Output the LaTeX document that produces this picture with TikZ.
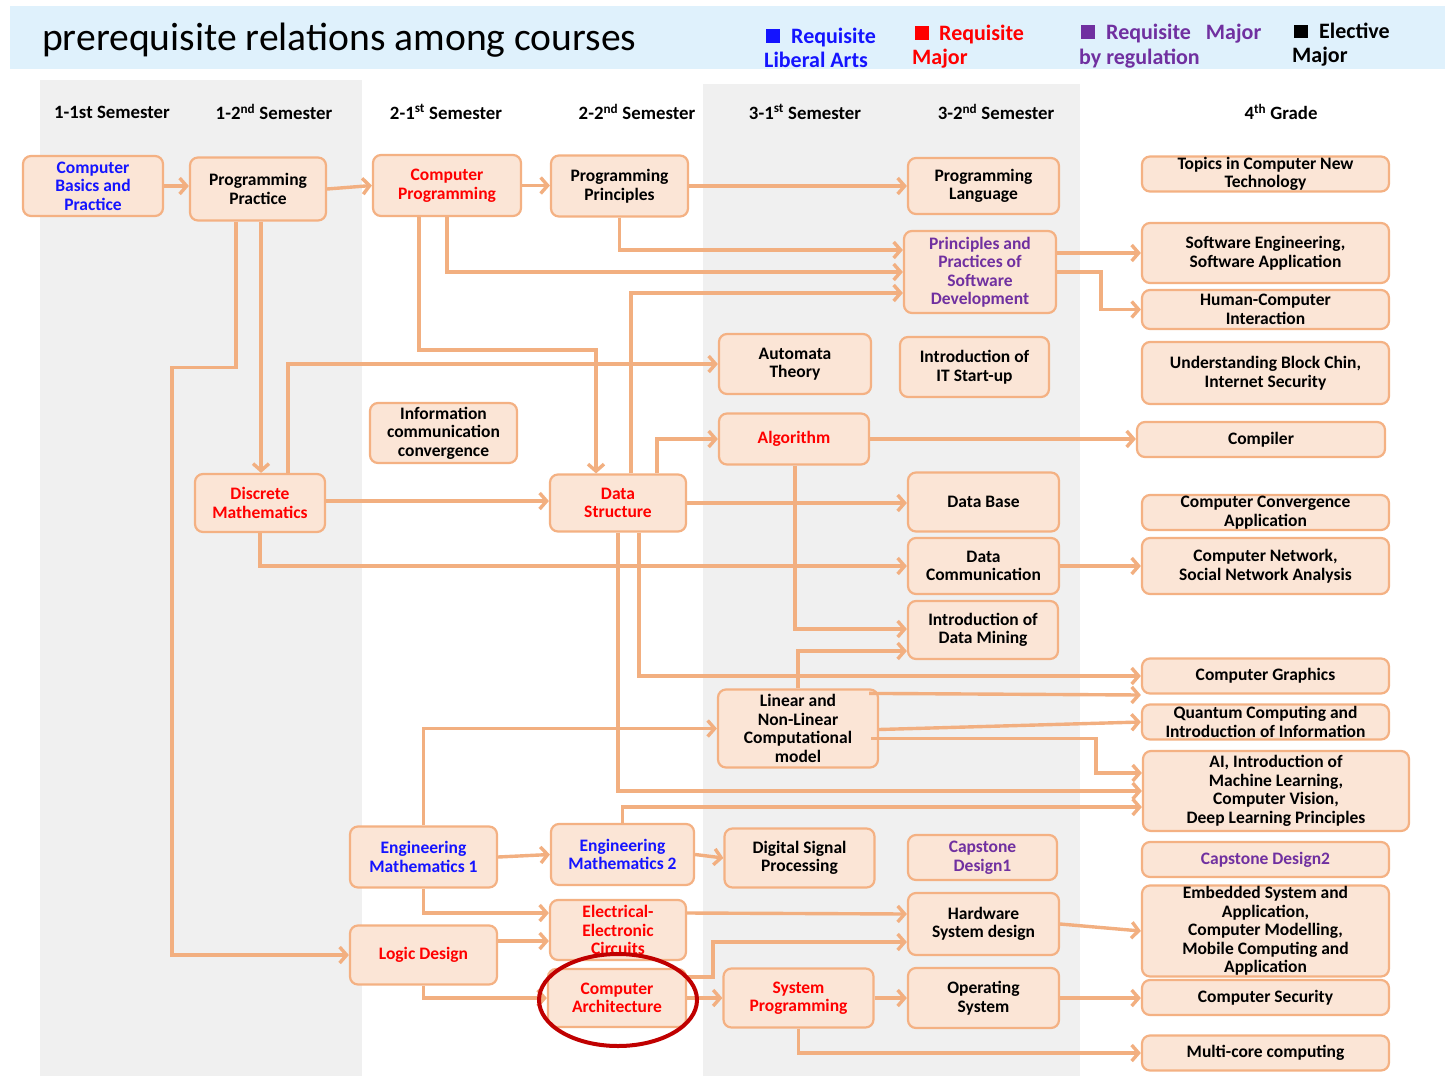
\documentclass[tikz,border=0pt]{standalone}
\usepackage{fontspec}
\setmainfont{Carlito}
\usetikzlibrary{arrows.meta,calc}
\definecolor{hdrblue}{HTML}{DFF1FC}
\definecolor{bandgray}{HTML}{F0F0F0}
\definecolor{boxfill}{HTML}{FBE5D6}
\definecolor{boxline}{HTML}{F4B183}
\definecolor{connc}{HTML}{F2AF80}
\definecolor{reqblue}{HTML}{1414FF}
\definecolor{reqred}{HTML}{FF0000}
\definecolor{reqpurple}{HTML}{7030A0}
\definecolor{ringred}{HTML}{C00000}
\newcommand\crsbox[7]{\node[crs, minimum width=#4pt, minimum height=#5pt, text=#6] (#1) at (#2,#3) {#7};}
\begin{document}
\begin{tikzpicture}[x=1pt,y=-1pt,
  crs/.style={draw=boxline, fill=boxfill, line width=2.2pt, rounded corners=8pt, align=center, inner sep=0pt,
    font=\bfseries\fontsize{17.5}{18.5}\selectfont},
  conn/.style={draw=connc, line width=3.4pt, -{Straight Barb[length=7pt,width=16pt]}},
  sem/.style={font=\bfseries\fontsize{18.8}{20}\selectfont, anchor=center},
  leg/.style={font=\bfseries\fontsize{22}{25}\selectfont, anchor=base west, inner sep=0pt}
]
\useasboundingbox (0,0) rectangle (1445,1076);
% backgrounds
\fill[white] (0,0) rectangle (1445,1076);
\fill[hdrblue] (10,6) rectangle (1445,69);
\fill[bandgray] (40,80) rectangle (362,1076);
\fill[bandgray] (703,84) rectangle (1080,1076);
% title
\node[anchor=base west, inner sep=0pt, font=\fontsize{39.6}{44}\selectfont] (title) at (42,50) {prerequisite relations among courses};
% legend
\fill[reqblue] (766,29) rectangle (780,43);
\node[leg, text=reqblue] (lg1a) at (791,43) {Requisite};
\node[leg, text=reqblue] (lg1b) at (764,67) {Liberal Arts};
\fill[reqred] (915,26) rectangle (929,40);
\node[leg, text=reqred] (lg2a) at (939,40) {Requisite};
\node[leg, text=reqred] (lg2b) at (912,64) {Major};
\fill[reqpurple] (1081,25) rectangle (1095,39);
\node[leg, text=reqpurple] (lg3a) at (1106,39) {Requisite\hspace{15pt}Major};
\node[leg, text=reqpurple] (lg3b) at (1079,64) {by regulation};
\fill[black] (1294,25) rectangle (1308,38);
\node[leg, text=black] (lg4a) at (1319,38) {Elective};
\node[leg, text=black] (lg4b) at (1292,62) {Major};
% semester headings
\node[sem] (s11) at (112,112) {1-1st Semester};
\node[sem] (s12) at (274,112) {1-2\textsuperscript{nd} Semester};
\node[sem] (s21) at (446,112) {2-1\textsuperscript{st} Semester};
\node[sem] (s22) at (637,112) {2-2\textsuperscript{nd} Semester};
\node[sem] (s31) at (805,112) {3-1\textsuperscript{st} Semester};
\node[sem] (s32) at (996,112) {3-2\textsuperscript{nd} Semester};
\node[sem] (s4) at (1281,112) {4\textsuperscript{th} Grade};
% course boxes
\crsbox{CB}{93}{186}{140}{60}{reqblue}{Computer\\Basics and\\Practice}
\crsbox{PP}{258}{189}{136}{63}{black}{Programming\\Practice}
\crsbox{DM}{260}{503}{130}{58}{reqred}{Discrete\\Mathematics}
\crsbox{CP}{447}{185.5}{148}{61}{reqred}{Computer\\Programming}
\crsbox{ICC}{443.5}{433}{147}{60}{black}{Information\\communication\\convergence}
\crsbox{EMa}{423.5}{857}{147}{61}{reqblue}{Engineering\\Mathematics 1}
\crsbox{LD}{423.5}{955}{147}{59}{reqred}{Logic Design}
\crsbox{PPr}{619.5}{186}{137}{61}{black}{Programming\\Principles}
\crsbox{DS}{618}{503}{136}{57}{reqred}{Data\\Structure}
\crsbox{EMb}{622.5}{854.5}{143}{61}{reqblue}{Engineering\\Mathematics 2}
\crsbox{EEC}{618}{930}{136}{60}{reqred}{Electrical-\\Electronic\\Circuits}
\crsbox{CA}{617}{998}{138}{58}{reqred}{Computer\\Architecture}
\crsbox{AT}{795}{364}{152}{60}{black}{Automata\\Theory}
\crsbox{ALG}{794}{439}{150}{51}{reqred}{Algorithm}
\crsbox{LNL}{798}{728.5}{160}{78}{black}{Linear and\\Non-Linear\\Computational\\model}
\crsbox{DSP}{799.5}{858}{150}{59}{black}{Digital Signal\\Processing}
\crsbox{SP}{798.5}{998}{150}{59}{reqred}{System\\Programming}
\crsbox{PL}{983.5}{186}{151}{56}{black}{Programming\\Language}
\crsbox{PPSD}{980}{272}{152}{82}{reqpurple}{Principles and\\Practices of\\Software\\Development}
\crsbox{ITS}{974.5}{367}{149}{60}{black}{Introduction of\\IT Start-up}
\crsbox{DB}{983.5}{502}{151}{59}{black}{Data Base}
\crsbox{DC}{983.5}{566}{151}{56}{black}{Data\\Communication}
\crsbox{IDM}{983}{630}{150}{58}{black}{Introduction of\\Data Mining}
\crsbox{CDa}{982.5}{857.5}{149}{45}{reqpurple}{Capstone\\Design1}
\crsbox{HSD}{983.5}{924}{151}{62}{black}{Hardware\\System design}
\crsbox{OS}{983.5}{998}{151}{60}{black}{Operating\\System}
\crsbox{TCNT}{1265.5}{174}{247}{35}{black}{Topics in Computer New\\Technology}
\crsbox{SE}{1265.5}{253}{247}{60}{black}{Software Engineering,\\Software Application}
\crsbox{HCI}{1265.5}{309.5}{247}{39}{black}{Human-Computer\\Interaction}
\crsbox{UBC}{1265.5}{373}{247}{62}{black}{Understanding Block Chin,\\Internet Security}
\crsbox{COMP}{1261}{439.5}{248}{35}{black}{Compiler}
\crsbox{CCA}{1265.5}{512.5}{247}{35}{black}{Computer Convergence\\Application}
\crsbox{CN}{1265.5}{566}{247}{56}{black}{Computer Network,\\Social Network Analysis}
\crsbox{CG}{1265.5}{676}{247}{35}{black}{Computer Graphics}
\crsbox{QC}{1265.5}{722}{247}{35}{black}{Quantum Computing and\\Introduction of Information}
\crsbox{AI}{1276}{791}{266}{80}{black}{AI, Introduction of\\Machine Learning,\\Computer Vision,\\Deep Learning Principles}
\crsbox{CDb}{1265.5}{859.5}{247}{35}{reqpurple}{Capstone Design2}
\crsbox{ES}{1265.5}{931}{247}{91}{black}{Embedded System and\\Application,\\Computer Modelling,\\Mobile Computing and\\Application}
\crsbox{CS}{1265.5}{997.5}{247}{35}{black}{Computer Security}
\crsbox{MC}{1265.5}{1053}{247}{35}{black}{Multi-core computing}
% connectors
\draw[conn] (CB.east) -- (CB.east -| PP.west);
\draw[conn] (PP.east) -- (CP.west);
\draw[conn] (CP.east) -- (CP.east -| PPr.west);
\draw[conn] (PPr.east) -- (PPr.east -| PL.west);
\draw[conn] (PPr.south) |- ([yshift=22pt]PPSD.west);
\draw[conn] (CP.south) |- (PPSD.west);
\draw[conn] ([xshift=13pt]DS.north) |- ([yshift=-21pt]PPSD.west);
\draw[conn] ([xshift=-28pt]CP.south) -- ++(0,133) -| ([xshift=-22pt]DS.north);
\draw[conn] ([xshift=3pt]PP.south) -- ([xshift=1pt]DM.north);
\draw[conn] ([xshift=-22pt]PP.south) -- ++(0,146) -- ++(-64,0) |- (LD.west);
\draw[conn] ([xshift=28pt]DM.north) |- (AT.west);
\draw[conn] ([xshift=39pt]DS.north) |- (ALG.west);
\draw[conn] ([yshift=2pt]DM.east) -- ([yshift=2pt]DM.east -| DS.west);
\draw[conn] (DM.south) |- (DC.west);
\draw[conn] (DS.east) -- (DS.east -| DB.west);
\draw[conn] (ALG.east) -- (ALG.east -| COMP.west);
\draw[conn] ([xshift=1pt]ALG.south) |- ([yshift=1pt]IDM.west);
\draw[conn] (LNL.north) |- ([yshift=-21pt]IDM.west);
\draw[conn] ([xshift=21pt]DS.south) |- (CG.west);
\draw[conn] ([xshift=-10pt,yshift=-5pt]LNL.north east) -- ([yshift=-19pt]CG.west);
\draw[conn] ([yshift=-1pt]LNL.east) -- (QC.west);
\draw[conn] ([xshift=-8pt,yshift=-10pt]LNL.east) -- ++(225,0) |- ([yshift=18pt]AI.west);
\draw[conn] (DS.south) |- (AI.west);
\draw[conn] (EMb.north) |- ([yshift=-16pt]AI.west);
\draw[conn] (EMa.north) |- (LNL.west);
\draw[conn] (EMa.east) -- (EMb.west);
\draw[conn] (EMb.east) -- (DSP.west);
\draw[conn] (EMa.south) |- ([yshift=17pt]EEC.west);
\draw[conn] ([yshift=14pt]LD.east) -- ([yshift=-11pt]EEC.west);
\draw[conn] (LD.south) |- (CA.west);
\draw[conn] ([yshift=17pt]EEC.east) -- ([yshift=10pt]HSD.west);
\draw[conn] ([yshift=21pt]CA.east) -- ++(26,0) |- ([yshift=-18pt]HSD.west);
\draw[conn] (CA.east) -- (CA.east -| SP.west);
\draw[conn] (SP.east) -- (SP.east -| OS.west);
\draw[conn] (SP.south) |- (MC.west);
\draw[conn] (OS.east) -- (OS.east -| CS.west);
\draw[conn] (HSD.east) -- (ES.west);
\draw[conn] (DC.east) -- (DC.east -| CN.west);
\draw[conn] ([yshift=19pt]PPSD.east) -- ([yshift=19pt]PPSD.east -| SE.west);
\draw[conn] (PPSD.east) -- ++(44,0) |- (HCI.west);
% highlight ring
\draw[ringred, line width=4pt] (CA.center) ++(1,2) ellipse [x radius=79pt, y radius=46pt];
\end{tikzpicture}
\end{document}
